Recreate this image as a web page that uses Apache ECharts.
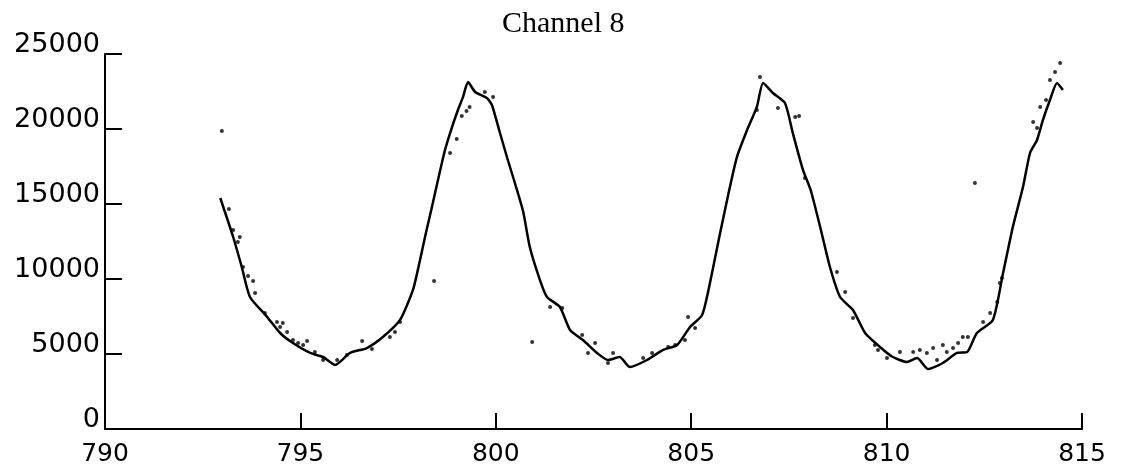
<!DOCTYPE html>
<html>
<head>
<meta charset="utf-8">
<script src="https://cdn.jsdelivr.net/npm/echarts@6/dist/echarts.min.js"></script>
<style>
html,body{margin:0;padding:0;background:#fff;}
#chart{width:1122px;height:475px;}
</style>
</head>
<body>
<div id="chart"></div>
<script>
// Title and tick labels
const titleText = "Channel 8";
const xTicks = [790, 795, 800, 805, 810, 815];
const yTicks = [0, 5000, 10000, 15000, 20000, 25000];

// Solid curve (wavelength, counts)
const lineX = [792.95,793.28,793.5,793.71,794.15,794.48,794.81,795.25,795.58,795.89,796.27,796.7,797.11,797.55,797.88,798.05,798.2,798.36,798.52,798.7,798.88,799.05,799.16,799.29,799.47,799.77,799.9,800.1,800.3,800.5,800.7,800.87,801.13,801.31,801.64,801.9,802.23,802.59,802.87,803.17,803.43,803.87,804.28,804.64,804.97,805.28,805.48,805.74,805.99,806.17,806.43,806.68,806.84,807.09,807.4,807.6,807.86,808.06,808.3,808.55,808.81,809.14,809.45,809.83,810.16,810.52,810.78,811.06,811.44,811.8,812.06,812.31,812.72,812.98,813.23,813.49,813.67,813.85,814.0,814.18,814.36,814.51];
const lineY = [15400,12800,10800,8800,7470,6400,5730,5070,4800,4270,5070,5400,6130,7270,9270,11130,12930,14730,16600,18600,20130,21400,22130,23130,22470,22070,21600,19800,18000,16300,14500,12130,9930,8800,8130,6600,5930,5070,4600,4800,4130,4600,5270,5600,6800,7600,9730,13070,16130,18130,19930,21470,23070,22400,21730,19730,17270,15900,13470,10800,8800,7930,6400,5470,4800,4470,4730,4000,4400,5070,5130,6400,7270,10400,13470,16130,18400,19270,20600,21930,23070,22600];

// Scattered measured points
const dotX = [792.99,793.17,793.28,793.45,793.4,793.53,793.66,793.79,793.84,794.09,794.4,794.55,794.48,794.66,794.81,794.94,795.17,795.07,795.37,795.58,795.94,796.19,796.58,796.83,797.29,797.42,797.55,798.42,798.83,799.0,799.13,799.25,799.33,799.72,799.93,800.93,801.39,801.7,802.21,802.54,802.36,802.87,803.0,803.77,804.0,804.41,804.59,804.84,804.92,805.1,806.68,806.76,807.22,807.66,807.76,807.91,808.73,808.94,809.14,809.7,809.78,810.01,810.34,810.68,810.85,811.03,811.19,811.29,811.44,811.54,811.7,811.83,811.95,812.08,812.26,812.47,812.65,812.83,812.9,812.95,813.75,813.85,813.93,814.08,814.18,814.31,814.44];
const dotY = [19870,14670,13270,12800,12470,10800,10200,9870,9070,7730,7130,7070,6800,6470,5930,5730,5870,5600,5130,4600,4600,4930,5870,5330,6130,6470,7130,9870,18400,19330,20870,21200,21470,22470,22130,5800,8130,8070,6270,5730,5070,4400,5070,4730,5070,5470,5600,5930,7470,6730,21270,23470,21400,20800,20870,16730,10470,9130,7400,5600,5270,4730,5130,5130,5270,5070,5400,4600,5600,5130,5400,5730,6130,6130,16400,7130,7730,8470,9730,10070,20470,20070,21470,21930,23270,23800,24400];

const linePts = lineX.map((x, i) => [x, lineY[i]]);
const dotPts = dotX.map((x, i) => [x, dotY[i]]);

const chart = echarts.init(document.getElementById('chart'), null, {renderer: 'canvas'});
chart.setOption({
  animation: false,
  backgroundColor: '#fff',
  title: {
    text: titleText,
    left: 497,
    top: 4,
    textStyle: {fontFamily: 'Liberation Serif', fontSize: 30, fontWeight: 'normal', color: '#000'}
  },
  grid: {left: 105, right: 40, top: 54, bottom: 46, containLabel: false},
  xAxis: {
    type: 'value',
    min: xTicks[0],
    max: xTicks[xTicks.length - 1],
    interval: 5,
    axisLine: {show: true, lineStyle: {color: '#000', width: 2}},
    axisTick: {show: true, inside: true, length: 16, lineStyle: {color: '#000', width: 2}},
    axisLabel: {fontFamily: 'DejaVu Sans', color: '#000', fontSize: 25, margin: 13,
      formatter: v => String(v)},
    splitLine: {show: false}
  },
  yAxis: {
    type: 'value',
    min: yTicks[0],
    max: yTicks[yTicks.length - 1],
    interval: 5000,
    axisLine: {show: true, lineStyle: {color: '#000', width: 2}},
    axisTick: {show: true, inside: true, length: 17, lineStyle: {color: '#000', width: 2}},
    axisLabel: {fontFamily: 'DejaVu Sans', color: '#000', fontSize: 27, margin: 5,
      verticalAlign: 'bottom', lineHeight: 18,
      formatter: v => String(v)},
    splitLine: {show: false}
  },
  series: [
    {
      type: 'line',
      data: linePts,
      showSymbol: false,
      smooth: 0.2,
      lineStyle: {color: '#000', width: 2.5},
      z: 2
    },
    {
      type: 'scatter',
      data: dotPts,
      symbol: 'circle',
      symbolSize: 4,
      itemStyle: {color: '#000'},
      z: 3
    }
  ]
});
</script>
</body>
</html>
